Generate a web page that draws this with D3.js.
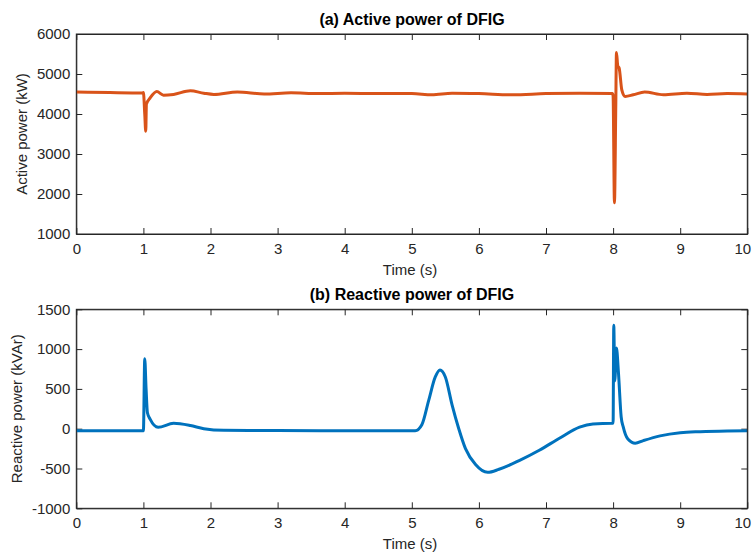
<!DOCTYPE html>
<html>
<head>
<meta charset="utf-8">
<script src="https://cdn.jsdelivr.net/npm/d3@7"></script>
<style>
  body { margin: 0; background: #fff; }
  text { font-family: "Liberation Sans", Arial, sans-serif; }
</style>
</head>
<body>
<div id="chart"></div>
<script>
var width = 754;
var height = 553;

// time / value pairs
var activeTime = [0, 0.5, 0.99, 1.0, 1.02, 1.035, 1.045, 1.1, 1.2, 1.3, 1.45, 1.7, 1.9, 2.05, 2.4, 2.8, 3.2, 3.6, 4.0, 4.5, 5.0, 5.3, 5.6, 6.0, 6.5, 7.0, 7.5, 7.99, 8.0, 8.02, 8.04, 8.05, 8.07, 8.09, 8.13, 8.18, 8.3, 8.47, 8.75, 9.1, 9.4, 9.7, 10];
var activePower = [4550, 4535, 4525, 4540, 4000, 3570, 4250, 4400, 4560, 4470, 4490, 4580, 4520, 4490, 4550, 4500, 4530, 4510, 4520, 4510, 4510, 4480, 4520, 4510, 4480, 4510, 4520, 4510, 4450, 1780, 4200, 5540, 5200, 5150, 4600, 4440, 4480, 4550, 4480, 4520, 4490, 4510, 4500];

var reactiveTime = [0, 0.99, 1.0, 1.02, 1.04, 1.06, 1.1, 1.22, 1.45, 1.7, 1.9, 2.2, 3.0, 4.0, 5.05, 5.15, 5.25, 5.35, 5.42, 5.5, 5.6, 5.7, 5.8, 5.95, 6.13, 6.3, 6.6, 6.9, 7.2, 7.5, 7.7, 7.99, 8.0, 8.01, 8.025, 8.05, 8.08, 8.12, 8.15, 8.22, 8.33, 8.45, 8.7, 9.0, 9.3, 9.7, 10];
var reactivePower = [-25, -25, -25, 880, 500, 200, 120, 18, 68, 40, 0, -20, -22, -25, -25, 50, 350, 650, 738, 650, 300, 0, -250, -450, -548, -510, -400, -270, -120, 20, 60, 68, 68, 1300, 600, 1014, 700, 150, 25, -130, -183, -150, -90, -50, -37, -28, -25];

var xTicks = [0, 1, 2, 3, 4, 5, 6, 7, 8, 9, 10];
var activeTicks = [1000, 2000, 3000, 4000, 5000, 6000];
var reactiveTicks = [-1000, -500, 0, 500, 1000, 1500];

var svg = d3.select("#chart").append("svg")
  .attr("width", width)
  .attr("height", height);

var axisColor = "#262626";
var plainNum = function (d) { return String(d); };

function drawPanel(opts) {
  var x = d3.scaleLinear().domain([0, 10]).range([76.3, 747.3]);
  var y = d3.scaleLinear().domain(opts.domain).range([opts.bottom, opts.top]);

  var g = svg.append("g");

  // bottom axis with labels
  var xAxisG = g.append("g")
    .attr("transform", "translate(0," + opts.bottom + ")")
    .call(d3.axisBottom(x).tickValues(xTicks).tickFormat(plainNum).tickSizeInner(-6).tickSizeOuter(0).tickPadding(9));
  // last label pulled in so it stays in the figure
  xAxisG.selectAll(".tick text").filter(function (d) { return d === 10; }).attr("dx", -5);
  // top axis, ticks only
  g.append("g")
    .attr("transform", "translate(0," + opts.top + ")")
    .call(d3.axisTop(x).tickValues(xTicks).tickSizeInner(-6).tickSizeOuter(0).tickFormat(""));
  // left axis with labels
  g.append("g")
    .attr("transform", "translate(76.3,0)")
    .call(d3.axisLeft(y).tickValues(opts.ticks).tickFormat(plainNum).tickSizeInner(-6).tickSizeOuter(0).tickPadding(6));
  // right axis, ticks only
  g.append("g")
    .attr("transform", "translate(747.3,0)")
    .call(d3.axisRight(y).tickValues(opts.ticks).tickSizeInner(-6).tickSizeOuter(0).tickFormat(""));

  g.selectAll(".domain").attr("stroke", axisColor);
  g.selectAll(".tick line").attr("stroke", axisColor);
  g.selectAll(".tick text")
    .attr("fill", axisColor)
    .style("font-size", "15px")
    .style("font-family", "'Liberation Sans', Arial, sans-serif");

  var line = d3.line()
    .x(function (d, i) { return x(opts.t[i]); })
    .y(function (d) { return y(d); })
    .curve(d3.curveMonotoneX);

  g.append("path")
    .datum(opts.v)
    .attr("d", line)
    .attr("fill", "none")
    .attr("stroke", opts.color)
    .attr("stroke-width", 3)
    .attr("stroke-linejoin", "round");

  // box outline
  g.append("rect")
    .attr("x", 76.3)
    .attr("y", opts.top)
    .attr("width", 747.3 - 76.3)
    .attr("height", opts.bottom - opts.top)
    .attr("fill", "none")
    .attr("stroke", axisColor)
    .attr("stroke-width", 1);

  // title
  g.append("text")
    .attr("x", 412)
    .attr("y", opts.top - 9)
    .attr("text-anchor", "middle")
    .style("font-size", "16px")
    .style("font-weight", "bold")
    .attr("fill", "#000")
    .text(opts.title);

  // x label
  g.append("text")
    .attr("x", 410)
    .attr("y", opts.bottom + 41)
    .attr("text-anchor", "middle")
    .style("font-size", "15px")
    .attr("fill", axisColor)
    .text("Time (s)");

  // y label
  g.append("text")
    .attr("transform", "translate(" + opts.ylabelX + "," + ((opts.top + opts.bottom) / 2) + ") rotate(-90)")
    .attr("text-anchor", "middle")
    .style("font-size", "15px")
    .attr("fill", axisColor)
    .text(opts.ylabel);
}

drawPanel({
  top: 34, bottom: 234, domain: [1000, 6000], ticks: activeTicks,
  t: activeTime, v: activePower, color: "#D95319",
  title: "(a) Active power of DFIG", ylabel: "Active power (kW)", ylabelX: 27
});

drawPanel({
  top: 309.3, bottom: 508.3, domain: [-1000, 1500], ticks: reactiveTicks,
  t: reactiveTime, v: reactivePower, color: "#0072BD",
  title: "(b) Reactive power of DFIG", ylabel: "Reactive power (kVAr)", ylabelX: 22
});
</script>
</body>
</html>
